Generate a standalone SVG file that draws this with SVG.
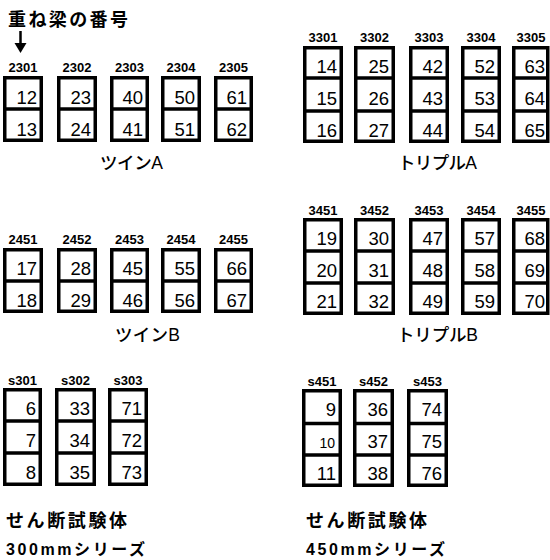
<svg xmlns="http://www.w3.org/2000/svg" width="550" height="560" viewBox="0 0 550 560">
<style>
.box{fill:none;stroke:#000;stroke-width:3.5}
.div{stroke:#000;stroke-width:3.5}
.num{font-family:"Liberation Sans",Arial,sans-serif;font-size:18.5px;text-anchor:end;fill:#000}
.sm{font-size:14px}
.lbl{font-family:"Liberation Sans",Arial,sans-serif;font-size:13px;font-weight:bold;text-anchor:middle;fill:#000}
.jp{font-family:"Liberation Sans","Noto Sans CJK JP",sans-serif;font-size:18px;font-weight:bold;fill:#000}
.jp2{font-family:"Liberation Sans","Noto Sans CJK JP",sans-serif;font-size:16px;font-weight:bold;fill:#000}
.sec{font-family:"Liberation Sans","Noto Sans CJK JP",sans-serif;font-size:17.5px;font-weight:500;fill:#000}
</style>
<rect width="550" height="560" fill="#fff"/>
<text class="jp" x="8" y="26" textLength="120" lengthAdjust="spacing">重ね梁の番号</text>
<g id="connectors">
<line x1="20.5" y1="31" x2="20.5" y2="44" stroke="#000" stroke-width="2.5"/>
<polygon points="14.5,43 26.5,43 20.5,53" fill="#000"/>
</g>
<!-- Twin A -->
<g id="b2301"><text class="lbl" x="23" y="72">2301</text><rect class="box" x="4.75" y="77.75" width="36.5" height="62.5"/><line class="div" x1="3" y1="109" x2="43" y2="109"/><text class="num" x="37" y="104">12</text><text class="num" x="37" y="136">13</text></g>
<g id="b2302"><text class="lbl" x="77" y="72">2302</text><rect class="box" x="58.75" y="77.75" width="36.5" height="62.5"/><line class="div" x1="57" y1="109" x2="97" y2="109"/><text class="num" x="91" y="104">23</text><text class="num" x="91" y="136">24</text></g>
<g id="b2303"><text class="lbl" x="129.5" y="72">2303</text><rect class="box" x="111.75" y="77.75" width="35.5" height="62.5"/><line class="div" x1="110" y1="109" x2="149" y2="109"/><text class="num" x="143" y="104">40</text><text class="num" x="143" y="136">41</text></g>
<g id="b2304"><text class="lbl" x="181" y="72">2304</text><rect class="box" x="162.75" y="77.75" width="36.5" height="62.5"/><line class="div" x1="161" y1="109" x2="201" y2="109"/><text class="num" x="195" y="104">50</text><text class="num" x="195" y="136">51</text></g>
<g id="b2305"><text class="lbl" x="233.5" y="72">2305</text><rect class="box" x="215.75" y="77.75" width="35.5" height="62.5"/><line class="div" x1="214" y1="109" x2="253" y2="109"/><text class="num" x="247" y="104">61</text><text class="num" x="247" y="136">62</text></g>
<text class="sec" x="100" y="169" textLength="63" lengthAdjust="spacing">ツインA</text>
<!-- Twin B -->
<g id="b2451"><text class="lbl" x="23" y="244">2451</text><rect class="box" x="4.75" y="249.75" width="36.5" height="61.5"/><line class="div" x1="3" y1="281" x2="43" y2="281"/><text class="num" x="37" y="275">17</text><text class="num" x="37" y="307">18</text></g>
<g id="b2452"><text class="lbl" x="77" y="244">2452</text><rect class="box" x="58.75" y="249.75" width="36.5" height="61.5"/><line class="div" x1="57" y1="281" x2="97" y2="281"/><text class="num" x="91" y="275">28</text><text class="num" x="91" y="307">29</text></g>
<g id="b2453"><text class="lbl" x="129.5" y="244">2453</text><rect class="box" x="111.75" y="249.75" width="35.5" height="61.5"/><line class="div" x1="110" y1="281" x2="149" y2="281"/><text class="num" x="143" y="275">45</text><text class="num" x="143" y="307">46</text></g>
<g id="b2454"><text class="lbl" x="181" y="244">2454</text><rect class="box" x="162.75" y="249.75" width="36.5" height="61.5"/><line class="div" x1="161" y1="281" x2="201" y2="281"/><text class="num" x="195" y="275">55</text><text class="num" x="195" y="307">56</text></g>
<g id="b2455"><text class="lbl" x="233.5" y="244">2455</text><rect class="box" x="215.75" y="249.75" width="35.5" height="61.5"/><line class="div" x1="214" y1="281" x2="253" y2="281"/><text class="num" x="247" y="275">66</text><text class="num" x="247" y="307">67</text></g>
<text class="sec" x="115" y="341" textLength="65" lengthAdjust="spacing">ツインB</text>
<!-- Triple A -->
<g id="b3301"><text class="lbl" x="323" y="42">3301</text><rect class="box" x="304.75" y="47.75" width="36.5" height="93.5"/><line class="div" x1="303" y1="78" x2="343" y2="78"/><line class="div" x1="303" y1="111" x2="343" y2="111"/><text class="num" x="337" y="73">14</text><text class="num" x="337" y="105">15</text><text class="num" x="337" y="137">16</text></g>
<g id="b3302"><text class="lbl" x="374.5" y="42">3302</text><rect class="box" x="355.75" y="47.75" width="37.5" height="93.5"/><line class="div" x1="354" y1="78" x2="395" y2="78"/><line class="div" x1="354" y1="111" x2="395" y2="111"/><text class="num" x="389" y="73">25</text><text class="num" x="389" y="105">26</text><text class="num" x="389" y="137">27</text></g>
<g id="b3303"><text class="lbl" x="429" y="42">3303</text><rect class="box" x="410.75" y="47.75" width="36.5" height="93.5"/><line class="div" x1="409" y1="78" x2="449" y2="78"/><line class="div" x1="409" y1="111" x2="449" y2="111"/><text class="num" x="443" y="73">42</text><text class="num" x="443" y="105">43</text><text class="num" x="443" y="137">44</text></g>
<g id="b3304"><text class="lbl" x="481" y="42">3304</text><rect class="box" x="462.75" y="47.75" width="36.5" height="93.5"/><line class="div" x1="461" y1="78" x2="501" y2="78"/><line class="div" x1="461" y1="111" x2="501" y2="111"/><text class="num" x="495" y="73">52</text><text class="num" x="495" y="105">53</text><text class="num" x="495" y="137">54</text></g>
<g id="b3305"><text class="lbl" x="531" y="42">3305</text><rect class="box" x="513.75" y="47.75" width="34" height="93.5"/><line class="div" x1="512" y1="78" x2="549" y2="78"/><line class="div" x1="512" y1="111" x2="549" y2="111"/><text class="num" x="545" y="73">63</text><text class="num" x="545" y="105">64</text><text class="num" x="545" y="137">65</text></g>
<text class="sec" x="398" y="169" textLength="79" lengthAdjust="spacing">トリプルA</text>
<!-- Triple B -->
<g id="b3451"><text class="lbl" x="323" y="215">3451</text><rect class="box" x="304.75" y="219.75" width="36.5" height="93.5"/><line class="div" x1="303" y1="251" x2="343" y2="251"/><line class="div" x1="303" y1="283" x2="343" y2="283"/><text class="num" x="337" y="245">19</text><text class="num" x="337" y="277">20</text><text class="num" x="337" y="308">21</text></g>
<g id="b3452"><text class="lbl" x="374.5" y="215">3452</text><rect class="box" x="355.75" y="219.75" width="37.5" height="93.5"/><line class="div" x1="354" y1="251" x2="395" y2="251"/><line class="div" x1="354" y1="283" x2="395" y2="283"/><text class="num" x="389" y="245">30</text><text class="num" x="389" y="277">31</text><text class="num" x="389" y="308">32</text></g>
<g id="b3453"><text class="lbl" x="429" y="215">3453</text><rect class="box" x="410.75" y="219.75" width="36.5" height="93.5"/><line class="div" x1="409" y1="251" x2="449" y2="251"/><line class="div" x1="409" y1="283" x2="449" y2="283"/><text class="num" x="443" y="245">47</text><text class="num" x="443" y="277">48</text><text class="num" x="443" y="308">49</text></g>
<g id="b3454"><text class="lbl" x="481" y="215">3454</text><rect class="box" x="462.75" y="219.75" width="36.5" height="93.5"/><line class="div" x1="461" y1="251" x2="501" y2="251"/><line class="div" x1="461" y1="283" x2="501" y2="283"/><text class="num" x="495" y="245">57</text><text class="num" x="495" y="277">58</text><text class="num" x="495" y="308">59</text></g>
<g id="b3455"><text class="lbl" x="531" y="215">3455</text><rect class="box" x="513.75" y="219.75" width="34" height="93.5"/><line class="div" x1="512" y1="251" x2="549" y2="251"/><line class="div" x1="512" y1="283" x2="549" y2="283"/><text class="num" x="545" y="245">68</text><text class="num" x="545" y="277">69</text><text class="num" x="545" y="308">70</text></g>
<text class="sec" x="397" y="341" textLength="81" lengthAdjust="spacing">トリプルB</text>
<!-- Shear 300 -->
<g id="s301"><text class="lbl" x="22.5" y="385">s301</text><rect class="box" x="4.75" y="389.75" width="35.5" height="94.5"/><line class="div" x1="3" y1="421" x2="42" y2="421"/><line class="div" x1="3" y1="453" x2="42" y2="453"/><text class="num" x="36" y="415">6</text><text class="num" x="36" y="447">7</text><text class="num" x="36" y="479">8</text></g>
<g id="s302"><text class="lbl" x="75.5" y="385">s302</text><rect class="box" x="56.75" y="389.75" width="37.5" height="94.5"/><line class="div" x1="55" y1="421" x2="96" y2="421"/><line class="div" x1="55" y1="453" x2="96" y2="453"/><text class="num" x="90" y="415">33</text><text class="num" x="90" y="447">34</text><text class="num" x="90" y="479">35</text></g>
<g id="s303"><text class="lbl" x="128" y="385">s303</text><rect class="box" x="109.75" y="389.75" width="36.5" height="94.5"/><line class="div" x1="108" y1="421" x2="148" y2="421"/><line class="div" x1="108" y1="453" x2="148" y2="453"/><text class="num" x="142" y="415">71</text><text class="num" x="142" y="447">72</text><text class="num" x="142" y="479">73</text></g>
<text class="jp" x="6" y="527" textLength="121" lengthAdjust="spacing">せん断試験体</text>
<text class="jp2" x="6" y="555" textLength="139" lengthAdjust="spacing">300mmシリーズ</text>
<!-- Shear 450 -->
<g id="s451"><text class="lbl" x="322" y="386">s451</text><rect class="box" x="303.75" y="390.75" width="36.5" height="94.5"/><line class="div" x1="302" y1="423.5" x2="342" y2="423.5"/><line class="div" x1="302" y1="455" x2="342" y2="455"/><text class="num" x="336" y="416">9</text><text class="num sm" x="335" y="448">10</text><text class="num" x="336" y="480">11</text></g>
<g id="s452"><text class="lbl" x="373.5" y="386">s452</text><rect class="box" x="354.75" y="390.75" width="37.5" height="94.5"/><line class="div" x1="353" y1="423.5" x2="394" y2="423.5"/><line class="div" x1="353" y1="455" x2="394" y2="455"/><text class="num" x="388" y="416">36</text><text class="num" x="388" y="448">37</text><text class="num" x="388" y="480">38</text></g>
<g id="s453"><text class="lbl" x="427.5" y="386">s453</text><rect class="box" x="408.75" y="390.75" width="37.5" height="94.5"/><line class="div" x1="407" y1="423.5" x2="448" y2="423.5"/><line class="div" x1="407" y1="455" x2="448" y2="455"/><text class="num" x="442" y="416">74</text><text class="num" x="442" y="448">75</text><text class="num" x="442" y="480">76</text></g>
<text class="jp" x="306" y="527" textLength="121" lengthAdjust="spacing">せん断試験体</text>
<text class="jp2" x="306" y="555" textLength="139" lengthAdjust="spacing">450mmシリーズ</text>
</svg>
